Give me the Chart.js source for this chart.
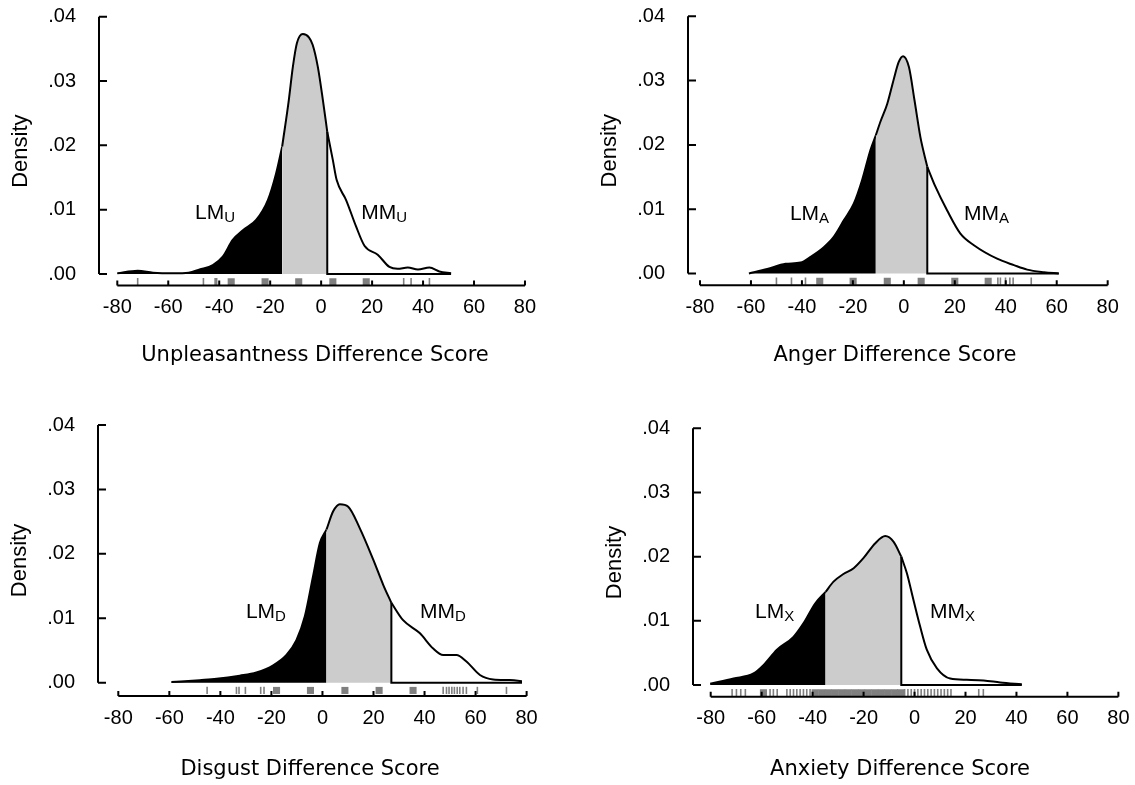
<!DOCTYPE html>
<html>
<head>
<meta charset="utf-8">
<script src="https://cdn.jsdelivr.net/npm/chart.js@4.4.0/dist/chart.umd.min.js"></script>
<style>
  body { margin: 0; background: #fff; }
  #wrap { position: relative; width: 1135px; height: 785px; overflow: hidden; }
  canvas { position: absolute; }
</style>
</head>
<body>
<div id="wrap">
  <canvas id="unpl"></canvas>
  <canvas id="anger"></canvas>
  <canvas id="disgust"></canvas>
  <canvas id="anxiety"></canvas>
</div>
<script>
// ---- axis ticks ----
const xTicks = [-80, -60, -40, -20, 0, 20, 40, 60, 80];
const yTicks = [0, 0.01, 0.02, 0.03, 0.04];

// ---- Unpleasantness ----
const unplX = [-80, -72, -66, -58, -52, -47.7, -42.5, -38.6, -34.7, -30.7, -25.5, -20.9, -17.7, -15.3, -12.7, -11.1, -9.5, -7.2, -4.8, -3.3, -1.3, 0.7, 2.4, 4.6, 6.1, 9.8, 13.7, 17, 22.2, 26.8, 30, 34, 38, 42.5, 46.4, 51];
const unplY = [0.0001, 0.0005, 0.0002, 0.0001, 0.0002, 0.0007, 0.0014, 0.0027, 0.0053, 0.0068, 0.0084, 0.0115, 0.0156, 0.0198, 0.0270, 0.0322, 0.0359, 0.0373, 0.0368, 0.0356, 0.0322, 0.0270, 0.0221, 0.0177, 0.0146, 0.0115, 0.0074, 0.0044, 0.0030, 0.0011, 0.0008, 0.0010, 0.0007, 0.0010, 0.0004, 0.0001];
const unplCut = [-15.3, 2.4];
const unplRugThin = [-72, -46.2, -41.6, -41, 32.4, 35.3, 42.5];
const unplRugWide = [-35.3, -22, -8.8, 4.6, 17.7];

// ---- Anger ----
const angerX = [-60.8, -53.6, -46.4, -40.5, -36.6, -31.4, -27.5, -23.5, -19.6, -16.4, -13.1, -11, -9.2, -6.5, -3.9, -2, -0.3, 2, 4.2, 6.5, 9.2, 12.4, 17, 22.2, 27.5, 36.6, 43.2, 48.4, 55, 60.8];
const angerY = [0.0000, 0.0007, 0.0015, 0.0017, 0.0026, 0.0041, 0.0057, 0.0083, 0.0109, 0.0145, 0.0192, 0.0215, 0.0236, 0.0264, 0.0303, 0.0329, 0.0338, 0.0321, 0.0269, 0.0212, 0.0166, 0.0135, 0.0098, 0.0062, 0.0044, 0.0023, 0.0013, 0.0006, 0.0002, 0.0000];
const angerCut = [-11, 9.2];
const angerRugThin = [-50, -44.1, -38.6, 36.9, 37.9, 39.9, 41.6, 42.9, 50];
const angerRugWide = [-33, -19.9, -6.5, 6.8, 20, 33.1];

// ---- Disgust ----
const disgX = [-59.2, -48.1, -41.5, -32.4, -25.9, -19.3, -14.1, -10.2, -6.9, -3.7, -1.0, 1.6, 4.2, 6.8, 10.1, 14.6, 19.9, 23.8, 27.0, 31.6, 38.1, 43.4, 47.3, 52.5, 56.4, 61.7, 66.9, 73.4, 79.3];
const disgY = [0.0001, 0.0004, 0.0006, 0.0011, 0.0016, 0.0027, 0.0043, 0.0066, 0.0103, 0.0165, 0.0217, 0.0238, 0.0266, 0.0277, 0.0273, 0.0240, 0.0191, 0.0152, 0.0124, 0.0097, 0.0077, 0.0053, 0.0043, 0.0043, 0.0033, 0.0012, 0.0005, 0.0004, 0.0002];
const disgCut = [1.6, 27.0];
const disgRugThin = [-45.2, -33.7, -32.7, -30.2, -24.2, -22.9, 47.3, 48.6, 49.6, 50.7, 51.7, 52.8, 53.8, 55.1, 56.4, 60.7, 72.1];
const disgRugWide = [-18, -4.7, 8.8, 22.2, 35.5];

// ---- Anxiety ----
const anxX = [-80.2, -71.0, -63.2, -59.3, -54.0, -47.5, -43.6, -39.0, -34.9, -31.8, -27.9, -23.9, -20.0, -15.4, -11.5, -8.2, -5.2, -3.0, -0.4, 2.2, 4.8, 8.8, 14.0, 20.5, 27.1, 33.6, 42.1];
const anxY = [0.0002, 0.0010, 0.0018, 0.0031, 0.0055, 0.0075, 0.0096, 0.0127, 0.0145, 0.0161, 0.0173, 0.0182, 0.0198, 0.0221, 0.0232, 0.0223, 0.0200, 0.0174, 0.0132, 0.0091, 0.0055, 0.0026, 0.0010, 0.0008, 0.0007, 0.0004, 0.0001];
const anxCut = [-34.9, -5.2];
const anxRugThin = [-71.6, -69.9, -68.2, -66.4, -56.7, -55.4, -53.9, -50.1, -48.8, -47.5, -46.2, -44.9, -43.6, -42.3, -41.0, -3.9, -2.6, -1.3, 0.0, 1.3, 2.6, 3.9, 5.2, 6.5, 7.8, 9.1, 10.4, 11.7, 13.0, 14.3, 25.2, 27.0];
const anxRugWide = [-59.3, -39.0, -36.4, -33.8, -31.2, -28.6, -26.0, -23.4, -20.8, -18.2, -15.6, -13.0, -10.4, -7.8, -5.5];

const rugY = -0.0012;
const rugGray = '#7f7f7f';
const tickFont = { family: '"Liberation Sans", Arial, sans-serif', size: 20 };

// draws the axis lines and inward ticks from the scales
const axesPlugin = {
  id: 'axesLines',
  afterDatasetsDraw(chart) {
    const { ctx, chartArea } = chart;
    const xs = chart.scales.x, ys = chart.scales.y;
    const left = chartArea.left, bottom = chartArea.bottom;
    ctx.save();
    ctx.strokeStyle = '#000';
    ctx.lineWidth = 2;
    ctx.beginPath();
    ctx.moveTo(left, ys.getPixelForValue(yTicks[yTicks.length - 1]));
    ctx.lineTo(left, ys.getPixelForValue(yTicks[0]));
    yTicks.forEach(v => {
      const py = ys.getPixelForValue(v);
      ctx.moveTo(left, py);
      ctx.lineTo(left + 8, py);
    });
    ctx.moveTo(xs.getPixelForValue(xTicks[0]), bottom);
    ctx.lineTo(xs.getPixelForValue(xTicks[xTicks.length - 1]), bottom);
    xTicks.forEach(v => {
      const px = xs.getPixelForValue(v);
      ctx.moveTo(px, bottom);
      ctx.lineTo(px, bottom - 5);
    });
    ctx.stroke();
    ctx.restore();
  }
};

// LM / MM labels with subscript
const labelPlugin = {
  id: 'regionLabels',
  afterDatasetsDraw(chart, args, opts) {
    const { ctx } = chart;
    const xs = chart.scales.x, ys = chart.scales.y;
    ctx.save();
    ctx.fillStyle = '#000';
    ctx.textAlign = 'left';
    ctx.textBaseline = 'alphabetic';
    (opts.items || []).forEach(it => {
      const px = xs.getPixelForValue(it.x);
      const py = ys.getPixelForValue(it.y);
      ctx.font = '21px "Liberation Sans", Arial, sans-serif';
      ctx.fillText(it.text, px, py);
      const w = ctx.measureText(it.text).width;
      ctx.font = '15px "Liberation Sans", Arial, sans-serif';
      ctx.fillText(it.sub, px + w, py + 3);
    });
    ctx.restore();
  }
};

function buildSets(xs, ys, cut, rugThin, rugWide) {
  const pts = xs.map((x, i) => ({ x: x, y: ys[i] }));
  const left = pts.filter(p => p.x <= cut[0]);
  const mid = pts.filter(p => p.x >= cut[0] && p.x <= cut[1]);
  const right = pts.filter(p => p.x >= cut[1]);
  const c2 = right[0], end = right[right.length - 1];
  const curve = { pointRadius: 0, borderColor: '#000', borderWidth: 2, cubicInterpolationMode: 'monotone' };
  return [
    Object.assign({ data: left, fill: 'origin', backgroundColor: '#000', order: 4 }, curve),
    Object.assign({ data: mid, fill: 'origin', backgroundColor: '#cccccc', order: 3 }, curve),
    Object.assign({ data: right, fill: false, order: 2 }, curve),
    { data: [{ x: c2.x, y: c2.y }, { x: c2.x, y: 0 }, { x: end.x, y: 0 }], fill: false, tension: 0,
      pointRadius: 0, borderColor: '#000', borderWidth: 2, order: 2 },
    { data: rugThin.map(x => ({ x: x, y: rugY })), showLine: false, pointStyle: 'line', pointRotation: 90,
      pointRadius: 3.6, pointBorderWidth: 1.6, pointBorderColor: rugGray, order: 1 },
    { data: rugWide.map(x => ({ x: x, y: rugY })), showLine: false, pointStyle: 'rect',
      pointRadius: 5, pointBorderWidth: 0, pointBackgroundColor: rugGray, order: 1 }
  ];
}

function makePanel(p) {
  const cv = document.getElementById(p.id);
  cv.width = p.box.w; cv.height = p.box.h;
  cv.style.left = p.box.left + 'px'; cv.style.top = p.box.top + 'px';
  cv.style.width = p.box.w + 'px'; cv.style.height = p.box.h + 'px';

  const g = p.geo;
  const yw = g.axisX - p.box.left;
  const xh = p.box.top + p.box.h - g.axisY;
  const ppd = (g.zeroY - g.topY) / 0.04;
  const yMin = -(g.axisY - g.zeroY) / ppd;
  const xRight = 2 * g.titleCX - g.axisX;
  const xMin = -80 - (g.xm80 - g.axisX) / g.ppu;
  const xMax = -80 + (xRight - g.xm80) / g.ppu;

  new Chart(cv, {
    type: 'line',
    data: { datasets: buildSets(p.xs, p.ys, p.cut, p.rugThin, p.rugWide) },
    plugins: [axesPlugin, labelPlugin],
    options: {
      responsive: false,
      animation: false,
      events: [],
      layout: { padding: { top: g.topY - p.box.top, right: p.box.left + p.box.w - xRight, bottom: 0, left: 0 } },
      plugins: {
        legend: { display: false },
        tooltip: { enabled: false },
        regionLabels: { items: p.labels }
      },
      scales: {
        x: {
          type: 'linear', min: xMin, max: xMax,
          afterBuildTicks: s => { s.ticks = xTicks.map(v => ({ value: v })); },
          afterFit: s => { s.height = xh; s.paddingLeft = 0; s.paddingRight = 0; },
          grid: { display: false, drawTicks: false }, border: { display: false },
          ticks: { font: tickFont, color: '#000', padding: 10, maxRotation: 0, autoSkip: false,
                   callback: v => String(v) },
          title: { display: true, text: p.title, color: '#000',
                   font: { family: '"DejaVu Sans", Verdana, sans-serif', size: 21 },
                   padding: { top: 0, bottom: p.box.top + p.box.h - g.titleCY - 12.6 } }
        },
        y: {
          type: 'linear', min: yMin, max: 0.04,
          afterBuildTicks: s => { s.ticks = yTicks.map(v => ({ value: v })); },
          afterFit: s => { s.width = yw; s.paddingTop = 0; s.paddingBottom = 0; },
          grid: { display: false, drawTicks: false }, border: { display: false },
          ticks: { font: tickFont, color: '#000', padding: 23,
                   callback: v => v.toFixed(2).replace(/^0/, '') },
          title: { display: true, text: 'Density', color: '#000',
                   font: { family: '"Liberation Sans", Arial, sans-serif', size: 22 },
                   padding: { top: g.densityX - p.box.left - 13.2, bottom: 0 } }
        }
      }
    }
  });
}

makePanel({
  id: 'unpl', box: { left: 0, top: 0, w: 567, h: 392 },
  geo: { axisX: 99, topY: 16.7, zeroY: 274, axisY: 285.5, xm80: 117.3, ppu: 2.548, titleCX: 315, titleCY: 356, densityX: 21 },
  xs: unplX, ys: unplY, cut: unplCut, rugThin: unplRugThin, rugWide: unplRugWide,
  title: 'Unpleasantness Difference Score',
  labels: [{ text: 'LM', sub: 'U', x: -49.5, y: 0.00855 }, { text: 'MM', sub: 'U', x: 15.7, y: 0.00855 }]
});
makePanel({
  id: 'anger', box: { left: 567, top: 0, w: 568, h: 392 },
  geo: { axisX: 688, topY: 16.3, zeroY: 273.5, axisY: 285.3, xm80: 700, ppu: 2.548, titleCX: 895, titleCY: 356, densityX: 610 },
  xs: angerX, ys: angerY, cut: angerCut, rugThin: angerRugThin, rugWide: angerRugWide,
  title: 'Anger Difference Score',
  labels: [{ text: 'LM', sub: 'A', x: -44.7, y: 0.0083 }, { text: 'MM', sub: 'A', x: 23.6, y: 0.0083 }]
});
makePanel({
  id: 'disgust', box: { left: 0, top: 392, w: 567, h: 393 },
  geo: { axisX: 98, topY: 425, zeroY: 682.7, axisY: 696, xm80: 118.3, ppu: 2.552, titleCX: 310, titleCY: 770, densityX: 20 },
  xs: disgX, ys: disgY, cut: disgCut, rugThin: disgRugThin, rugWide: disgRugWide,
  title: 'Disgust Difference Score',
  labels: [{ text: 'LM', sub: 'D', x: -30, y: 0.01005 }, { text: 'MM', sub: 'D', x: 38.2, y: 0.01005 }]
});
makePanel({
  id: 'anxiety', box: { left: 567, top: 392, w: 568, h: 393 },
  geo: { axisX: 693, topY: 428.3, zeroY: 685, axisY: 696.7, xm80: 710.7, ppu: 2.548, titleCX: 900, titleCY: 770, densityX: 615 },
  xs: anxX, ys: anxY, cut: anxCut, rugThin: anxRugThin, rugWide: anxRugWide,
  title: 'Anxiety Difference Score',
  labels: [{ text: 'LM', sub: 'X', x: -62.6, y: 0.01044 }, { text: 'MM', sub: 'X', x: 6.1, y: 0.01044 }]
});
</script>
</body>
</html>
